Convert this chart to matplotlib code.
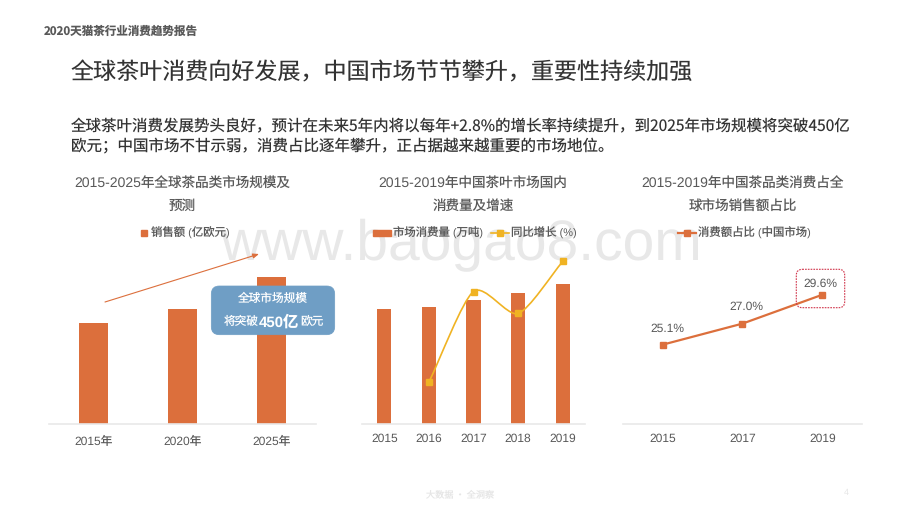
import numpy as np
import matplotlib
matplotlib.use("Agg")
import matplotlib.pyplot as plt
from matplotlib.path import Path
from matplotlib.patches import PathPatch, FancyBboxPatch, Patch
from matplotlib.lines import Line2D

CJK = ['Noto Sans CJK SC', 'DejaVu Sans']
MIX = ['Liberation Sans', 'Noto Sans CJK SC', 'DejaVu Sans']
plt.rcParams['font.family'] = MIX
plt.rcParams['text.hinting'] = 'no_hinting'
plt.rcParams['text.hinting_factor'] = 1

# --- data ---
market_years = ['2015年', '2020年', '2025年']
market_sales = [310, 352, 450]

china_years = ['2015', '2016', '2017', '2018', '2019']
china_volume = [163, 167, 177, 186, 200]
china_growth = [None, 2.07, 6.6, 5.5, 8.1]

share_years = ['2015', '2017', '2019']
share_values = [25.1, 27.0, 29.6]

ORANGE = '#DC6F3C'
YELLOW = '#F0B323'
AXIS = '#E9E9E9'
TXT = '#595959'
W, H = 920, 518

fig = plt.figure(figsize=(W / 100, H / 100), dpi=100, facecolor='white')


def px_axes(x0, y0, x1, y1, **kw):
    return fig.add_axes([x0 / W, 1 - y1 / H, (x1 - x0) / W, (y1 - y0) / H], **kw)


# overlay in pixel coordinates: page text and annotations
page = px_axes(0, 0, W, H, zorder=0)
page.set_xlim(0, W)
page.set_ylim(H, 0)
page.axis('off')
top = px_axes(0, 0, W, H, zorder=5)
top.set_xlim(0, W)
top.set_ylim(H, 0)
top.axis('off')
top.patch.set_alpha(0)

page.text(44, 31, '2020天猫茶行业消费趋势报告', family=CJK, fontsize=8.3, weight='bold',
          color='#595959', va='center')
page.text(70.5, 73, '全球茶叶消费向好发展，中国市场节节攀升，重要性持续加强', family=CJK,
          fontsize=16.6, color='#333333', va='center')
page.text(71, 127, '全球茶叶消费发展势头良好，预计在未来5年内将以每年+2.8%的增长率持续提升，到2025年市场规模将突破450亿',
          family=CJK, fontsize=11.17, color='#333333', va='center')
page.text(71, 146, '欧元；中国市场不甘示弱，消费占比逐年攀升，正占据越来越重要的市场地位。',
          family=CJK, fontsize=11.17, color='#333333', va='center')
page.text(461, 260, 'www.baogao8.com', family=['Liberation Sans'], fontsize=41.1,
          color='#E8E8E8', ha='center', va='baseline')
page.text(460, 494, '大数据 · 全洞察', family=CJK, fontsize=6.6, color='#E6E6E6', ha='center', va='center')
page.text(846, 493, '4', fontsize=6.6, color='#E6E6E6', ha='center', va='center')

titles = [(182.5, '2015-2025年全球茶品类市场规模及', '预测'),
          (473, '2015-2019年中国茶叶市场国内', '消费量及增速'),
          (742.5, '2015-2019年中国茶品类消费占全', '球市场销售额占比')]
for x, l1, l2 in titles:
    page.text(x, 183, l1, fontsize=9.75, color=TXT, ha='center', va='center')
    page.text(x, 206, l2, fontsize=9.75, color=TXT, ha='center', va='center')


def style(ax, pad):
    ax.patch.set_alpha(0)
    for s in ('top', 'left', 'right'):
        ax.spines[s].set_visible(False)
    ax.spines['bottom'].set_color(AXIS)
    ax.spines['bottom'].set_linewidth(1.2)
    ax.set_yticks([])
    ax.tick_params(axis='x', length=0, pad=pad, labelsize=8.4, labelcolor=TXT)


def legend(ax, handles, cx, **kw):
    opts = dict(loc='center', bbox_to_anchor=(cx / W, 1 - 233 / H), bbox_transform=fig.transFigure,
                frameon=False, ncol=len(handles), fontsize=8.2, labelcolor=TXT, borderpad=0,
                handletextpad=0.2, columnspacing=0.7)
    opts.update(kw)
    ax.legend(handles=handles, **opts)


BASE = 423.5
AX_TOP = 250

# --- chart 1 ---
ax1 = px_axes(49, AX_TOP, 316, BASE, zorder=2)
ax1.bar(market_years, market_sales, width=0.315, color=ORANGE)
ax1.set_xlim(-0.5, 2.5)
ax1.set_ylim(0, 533)
style(ax1, 9.5)
legend(ax1, [Line2D([], [], ls='none', marker='s', ms=4, color=ORANGE, label='销售额 (亿欧元)')], 185,
       handlelength=0.6, handletextpad=0.35)

top.annotate('', xy=(259, 254), xytext=(105, 302),
             arrowprops=dict(arrowstyle='-|>,head_width=0.14,head_length=0.35', color=ORANGE, lw=0.8,
                             shrinkA=0, shrinkB=0))
top.add_patch(FancyBboxPatch((217.3, 292), 111.4, 36.7, boxstyle='round,pad=6,rounding_size=8',
                             fc='#6F9EC5', ec='#6F9EC5', lw=0.5))
top.text(273, 299, '全球市场规模', color='white', fontsize=8.4, ha='center', va='center')
t_y = 322
top.text(259, t_y, '将突破', color='white', fontsize=8.4, ha='right', va='center')
top.text(279, t_y, '450亿', color='white', fontsize=11, weight='bold',
         ha='center', va='center')
top.text(300, t_y, '欧元', color='white', fontsize=8.4, ha='left', va='center')

# --- chart 2 ---
ax2 = px_axes(362, AX_TOP, 585, BASE, zorder=2)
pos = np.arange(len(china_years))
ax2.bar(pos, china_volume, width=0.314, color=ORANGE)
ax2.set_xticks(pos, china_years)
ax2.set_xlim(-0.5, 4.5)
ax2.set_ylim(0, 248)
style(ax2, 7)

ax2b = ax2.twinx()
ax2b.set_ylim(0, 8.675)
ax2b.axis('off')
gx = [p for p, v in zip(pos, china_growth) if v is not None]
gy = [v for v in china_growth if v is not None]
# smooth line: cubic Bezier segments through the points
pts = np.column_stack([gx, gy]).astype(float)
tang = np.gradient(pts, axis=0)
tang[1:-1] = (pts[2:] - pts[:-2]) / 2
verts, codes = [pts[0]], [Path.MOVETO]
for i in range(len(pts) - 1):
    verts += [pts[i] + tang[i] / 4, pts[i + 1] - tang[i + 1] / 4, pts[i + 1]]
    codes += [Path.CURVE4] * 3
ax2b.add_patch(PathPatch(Path(verts, codes), fc='none', ec=YELLOW, lw=1.2))
ax2b.plot(gx, gy, ls='none', marker='s', ms=4.2, color=YELLOW)
legend(ax2, [Patch(color=ORANGE, label='市场消费量 (万吨)'),
             Line2D([], [], color=YELLOW, lw=1.2, marker='s', ms=4.2, label='同比增长 (%)')], 475,
       handlelength=1.58, handleheight=0.45)

# --- chart 3 ---
ax3 = px_axes(622.7, AX_TOP, 862.3, BASE, zorder=2)
ax3.plot(share_years, share_values, color=ORANGE, lw=1.6, marker='s', ms=4.5)
ax3.set_xlim(-0.5, 2.5)
ax3.set_ylim(18, 33.63)
style(ax3, 7)
offsets = [(5, 16), (4, 17), (-2, 11)]
for x, y, off in zip(range(3), share_values, offsets):
    ax3.annotate(f'{y:.1f}%', (x, y), xytext=off, textcoords='offset pixels', ha='center', va='center',
                 fontsize=8.4, color=TXT)
legend(ax3, [Line2D([], [], color=ORANGE, lw=1.6, marker='s', ms=4.5, label='消费额占比 (中国市场)')], 744.5,
       handlelength=1.58)
top.add_patch(FancyBboxPatch((800.3, 273.3), 40.4, 30.4, boxstyle='round,pad=4,rounding_size=6',
                             fc='none', ec='#D0344A', lw=0.8, ls=(0, (1.5, 1))))

fig.savefig('out.png', dpi=100, facecolor='white')
